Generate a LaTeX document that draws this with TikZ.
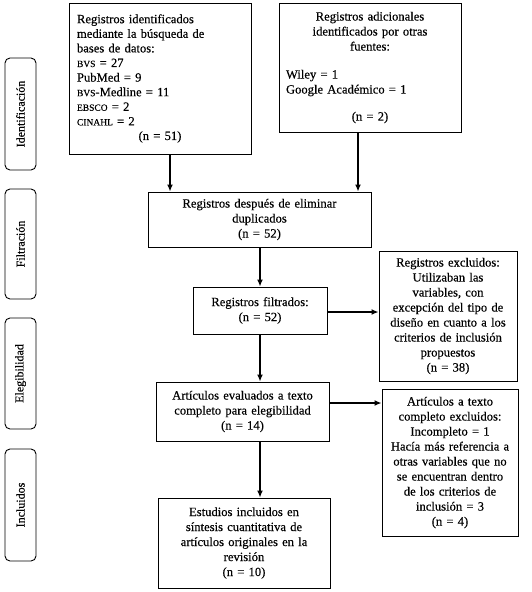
\documentclass[tikz,border=0pt]{standalone}
\usepackage{fontspec}
\setmainfont{Liberation Serif}[FakeBold=0.35]
\usetikzlibrary{arrows.meta}
\newcommand{\smc}[1]{{\fontsize{9.5}{15}\selectfont #1}}
\begin{document}
\begin{tikzpicture}[x=1pt,y=-1pt,
  box/.style={draw, line width=0.9pt, inner sep=0pt, align=center, font=\fontsize{12.6}{15}\selectfont},
  side/.style={draw, line width=0.9pt, rounded corners=5pt, rotate=90, inner sep=0pt, minimum height=31pt, font=\fontsize{12}{14}\selectfont},
  arr/.style={line width=1.5pt, -{Latex[length=7pt,width=6pt]}}]
\useasboundingbox[fill=white] (0,0) rectangle (531,592);

% side labels
\node[side, minimum width=112pt] (s1) at (20.5,114) {Identificación};
\node[side, minimum width=110pt] (s2) at (20.5,244) {Filtración};
\node[side, minimum width=111pt] (s3) at (20.5,373.5) {Elegibilidad};
\node[side, minimum width=112pt] (s4) at (20.5,505) {Incluidos};

% boxes
\node[box, align=left, text width=166pt, minimum width=182pt, minimum height=151pt, font=\fontsize{12.6}{14.6}\selectfont] (A) at (160,78.5)
 {Registros identificados\\ mediante la búsqueda de\\ bases de datos:\\ \smc{BVS} = 27\\ PubMed = 9\\ \smc{BVS}-Medline = 11\\ \smc{EBSCO} = 2\\ \smc{CINAHL} = 2\\ \makebox[166pt][c]{(n = 51)}};
\node[box, text width=168pt, minimum width=182pt, minimum height=129pt] (B) at (370,67.5)
 {Registros adicionales\\ identificados por otras\\ fuentes:\\[13pt] \makebox[168pt][l]{Wiley = 1}\\ \makebox[168pt][l]{Google Académico = 1}\\[12pt] (n = 2)};
\node[box, text width=210pt, minimum width=223pt, minimum height=55pt] (C) at (259.5,219.5)
 {Registros después de eliminar\\ duplicados\\ (n = 52)};
\node[box, text width=126pt, minimum width=134pt, minimum height=47pt] (D) at (260,310.5)
 {Registros filtrados:\\ (n = 52)};
\node[box, text width=134pt, minimum width=138pt, minimum height=130pt] (E) at (448,316)
 {Registros excluidos:\\ Utilizaban las\\ variables, con\\ excepción del tipo de\\ diseño en cuanto a los\\ criterios de inclusión\\ propuestos\\ (n = 38)};
\node[box, text width=165pt, minimum width=173pt, minimum height=59pt] (F) at (242.5,411.5)
 {Artículos evaluados a texto\\ completo para elegibilidad\\ (n = 14)};
\node[box, text width=132pt, minimum width=136pt, minimum height=147pt] (G) at (450,462.5)
 {Artículos a texto\\ completo excluidos:\\ Incompleto = 1\\ Hacía más referencia a\\ otras variables que no\\ se encuentran dentro\\ de los criterios de\\ inclusión = 3\\ (n = 4)};
\node[box, text width=164pt, minimum width=172pt, minimum height=90pt] (H) at (244,543)
 {Estudios incluidos en\\ síntesis cuantitativa de\\ artículos originales en la\\ revisión\\ (n = 10)};

% connectors
\coordinate (a1) at ([xshift=10pt]A.south);
\coordinate (b1) at ([xshift=-12pt]B.south);
\coordinate (d1) at ([yshift=-1.5pt]D.east);
\coordinate (f1) at ([yshift=8.5pt]F.east);
\coordinate (f2) at ([xshift=17.5pt]F.south);
\draw[arr] (a1) -- (a1 |- C.north);
\draw[arr] (b1) -- (b1 |- C.north);
\draw[arr] (D.north |- C.south) -- (D.north);
\draw[arr] (d1) -- (d1 -| E.west);
\draw[arr] (D.south) -- (D.south |- F.north);
\draw[arr] (f1) -- (f1 -| G.west);
\draw[arr] (f2) -- (f2 |- H.north);
\end{tikzpicture}
\end{document}
